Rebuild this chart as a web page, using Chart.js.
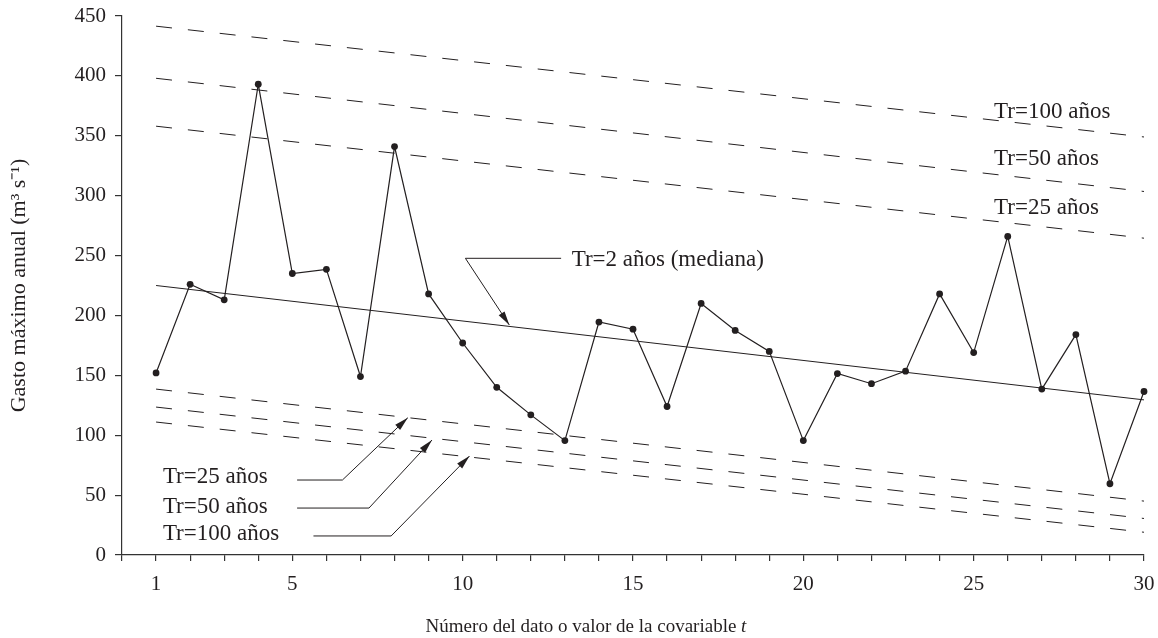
<!DOCTYPE html>
<html>
<head>
<meta charset="utf-8">
<script src="https://cdn.jsdelivr.net/npm/chart.js@4"></script>
<style>
  html, body { margin: 0; padding: 0; background: #fff; }
  #wrap { width: 1158px; height: 638px; }
</style>
</head>
<body>
<div id="wrap"><canvas id="grafica"></canvas></div>
<script>
// Datos
const t = [1, 2, 3, 4, 5, 6, 7, 8, 9, 10, 11, 12, 13, 14, 15,
  16, 17, 18, 19, 20, 21, 22, 23, 24, 25, 26, 27, 28, 29, 30]
const gasto = [152, 226, 213, 393, 235, 238.5, 149, 341, 218, 177, 140, 117, 95.5, 194.5, 188.5,
  124, 210, 187.5, 170, 95.5, 151.5, 143, 153.5, 218, 169, 266, 138.5, 184, 59.5, 136.5]

// rectas de tendencia: valor en t = 1 y en t = 30
const tExtremos = [1, 30]
const mediana = [225, 129.5]
const tr25Sup = [358, 264.5]
const tr50Sup = [398, 303.5]
const tr100Sup = [441.5, 349]
const tr25Inf = [138.5, 45]
const tr50Inf = [123.5, 30.5]
const tr100Inf = [111, 19]

const yTicks = [0, 50, 100, 150, 200, 250, 300, 350, 400, 450]
const xEtiquetas = [1, 5, 10, 15, 20, 25, 30]

const fuente = 'Liberation Serif'
const tinta = '#231f20'

// textos y flechas, en unidades de los ejes
const etiquetas = [
  { text: 'Tr=2 años (mediana)', t: 13.2, q: 246 },
  { text: 'Tr=100 años', t: 25.6, q: 370 },
  { text: 'Tr=50 años', t: 25.6, q: 330.5 },
  { text: 'Tr=25 años', t: 25.6, q: 289.5 },
  { text: 'Tr=25 años', t: 1.2, q: 65.5 },
  { text: 'Tr=50 años', t: 1.2, q: 40.5 },
  { text: 'Tr=100 años', t: 1.2, q: 17.5 }
]
const flechas = [
  [[12.89, 247.7], [10.08, 247.7], [11.37, 192]],
  [[5.14, 62.6], [6.47, 62.6], [8.39, 114.6]],
  [[5.14, 39.2], [7.25, 39.2], [9.1, 96]],
  [[5.62, 15.9], [7.9, 15.9], [10.2, 82.6]]
]

const recta = (valores) => tExtremos.map((x, i) => ({ x: x, y: valores[i] }))
const discontinua = (valores) => ({
  data: recta(valores),
  borderColor: tinta,
  borderWidth: 1,
  borderDash: [16, 16],
  pointRadius: 0,
  clip: false,
  fill: false
})

const anotaciones = {
  id: 'anotaciones',
  afterDatasetsDraw(chart) {
    const { ctx, scales: { x, y } } = chart
    ctx.save()
    ctx.strokeStyle = tinta
    ctx.fillStyle = tinta
    ctx.lineWidth = 1
    flechas.forEach((pts) => {
      const p = pts.map(([a, b]) => [x.getPixelForValue(a), y.getPixelForValue(b)])
      ctx.beginPath()
      ctx.moveTo(p[0][0], p[0][1])
      for (let i = 1; i < p.length; i++) ctx.lineTo(p[i][0], p[i][1])
      ctx.stroke()
      // punta de flecha
      const [x1, y1] = p[p.length - 2]
      const [x2, y2] = p[p.length - 1]
      const ang = Math.atan2(y2 - y1, x2 - x1)
      const largo = 14, ancho = 3.5
      ctx.beginPath()
      ctx.moveTo(x2, y2)
      ctx.lineTo(x2 - largo * Math.cos(ang) + ancho * Math.sin(ang), y2 - largo * Math.sin(ang) - ancho * Math.cos(ang))
      ctx.lineTo(x2 - largo * Math.cos(ang) - ancho * Math.sin(ang), y2 - largo * Math.sin(ang) + ancho * Math.cos(ang))
      ctx.closePath()
      ctx.fill()
    })
    ctx.font = '23px "' + fuente + '"'
    ctx.textBaseline = 'middle'
    ctx.textAlign = 'left'
    etiquetas.forEach((e) => {
      ctx.fillText(e.text, x.getPixelForValue(e.t), y.getPixelForValue(e.q))
    })
    // título del eje x, con la t en cursiva
    const txt = 'Número del dato o valor de la covariable '
    ctx.font = '19px "' + fuente + '"'
    const w1 = ctx.measureText(txt).width
    ctx.font = 'italic 19px "' + fuente + '"'
    const w2 = ctx.measureText('t').width
    const x0 = 586 - (w1 + w2) / 2
    ctx.font = '19px "' + fuente + '"'
    ctx.fillText(txt, x0, 627)
    ctx.font = 'italic 19px "' + fuente + '"'
    ctx.fillText('t', x0 + w1, 627)
    ctx.restore()
  }
}

new Chart(document.getElementById('grafica'), {
  type: 'line',
  data: {
    datasets: [
      {
        data: t.map((x, i) => ({ x: x, y: gasto[i] })),
        borderColor: tinta,
        borderWidth: 1.2,
        pointRadius: 3.4,
        pointBackgroundColor: tinta,
        pointBorderWidth: 0,
        tension: 0,
        clip: false,
        fill: false
      },
      {
        data: recta(mediana),
        borderColor: tinta,
        borderWidth: 1,
        pointRadius: 0,
        clip: false,
        fill: false
      },
      discontinua(tr25Sup),
      discontinua(tr50Sup),
      discontinua(tr100Sup),
      discontinua(tr25Inf),
      discontinua(tr50Inf),
      discontinua(tr100Inf)
    ]
  },
  options: {
    responsive: true,
    maintainAspectRatio: false,
    animation: false,
    layout: { padding: { top: 16, right: 14, bottom: 0, left: 0 } },
    plugins: {
      legend: { display: false },
      tooltip: { enabled: false }
    },
    scales: {
      x: {
        type: 'linear',
        min: 0,
        max: 30,
        afterFit: (s) => { s.height = 83; s.paddingLeft = 0; s.paddingRight = 0 },
        border: { display: true, color: '#333', width: 1.2 },
        grid: { drawOnChartArea: false, drawTicks: true, tickLength: 6, color: '#333', lineWidth: 1.2 },
        ticks: {
          stepSize: 1,
          autoSkip: false,
          maxRotation: 0,
          padding: 11,
          color: tinta,
          font: { family: fuente, size: 21 },
          callback: (v) => (xEtiquetas.includes(v) ? String(v) : '')
        }
      },
      y: {
        min: 0,
        max: 450,
        afterFit: (s) => { s.width = 122; s.paddingTop = 0; s.paddingBottom = 0 },
        afterBuildTicks: (s) => { s.ticks = yTicks.map((v) => ({ value: v })) },
        border: { display: true, color: '#333', width: 1.2 },
        grid: { drawOnChartArea: false, drawTicks: true, tickLength: 7, color: '#333', lineWidth: 1.2 },
        ticks: {
          padding: 9,
          color: tinta,
          font: { family: fuente, size: 21 }
        },
        title: {
          display: true,
          text: 'Gasto máximo anual (m³ s⁻¹)',
          color: tinta,
          font: { family: fuente, size: 22 },
          padding: { top: 6, bottom: 0 }
        }
      }
    }
  },
  plugins: [anotaciones]
})
</script>
</body>
</html>
